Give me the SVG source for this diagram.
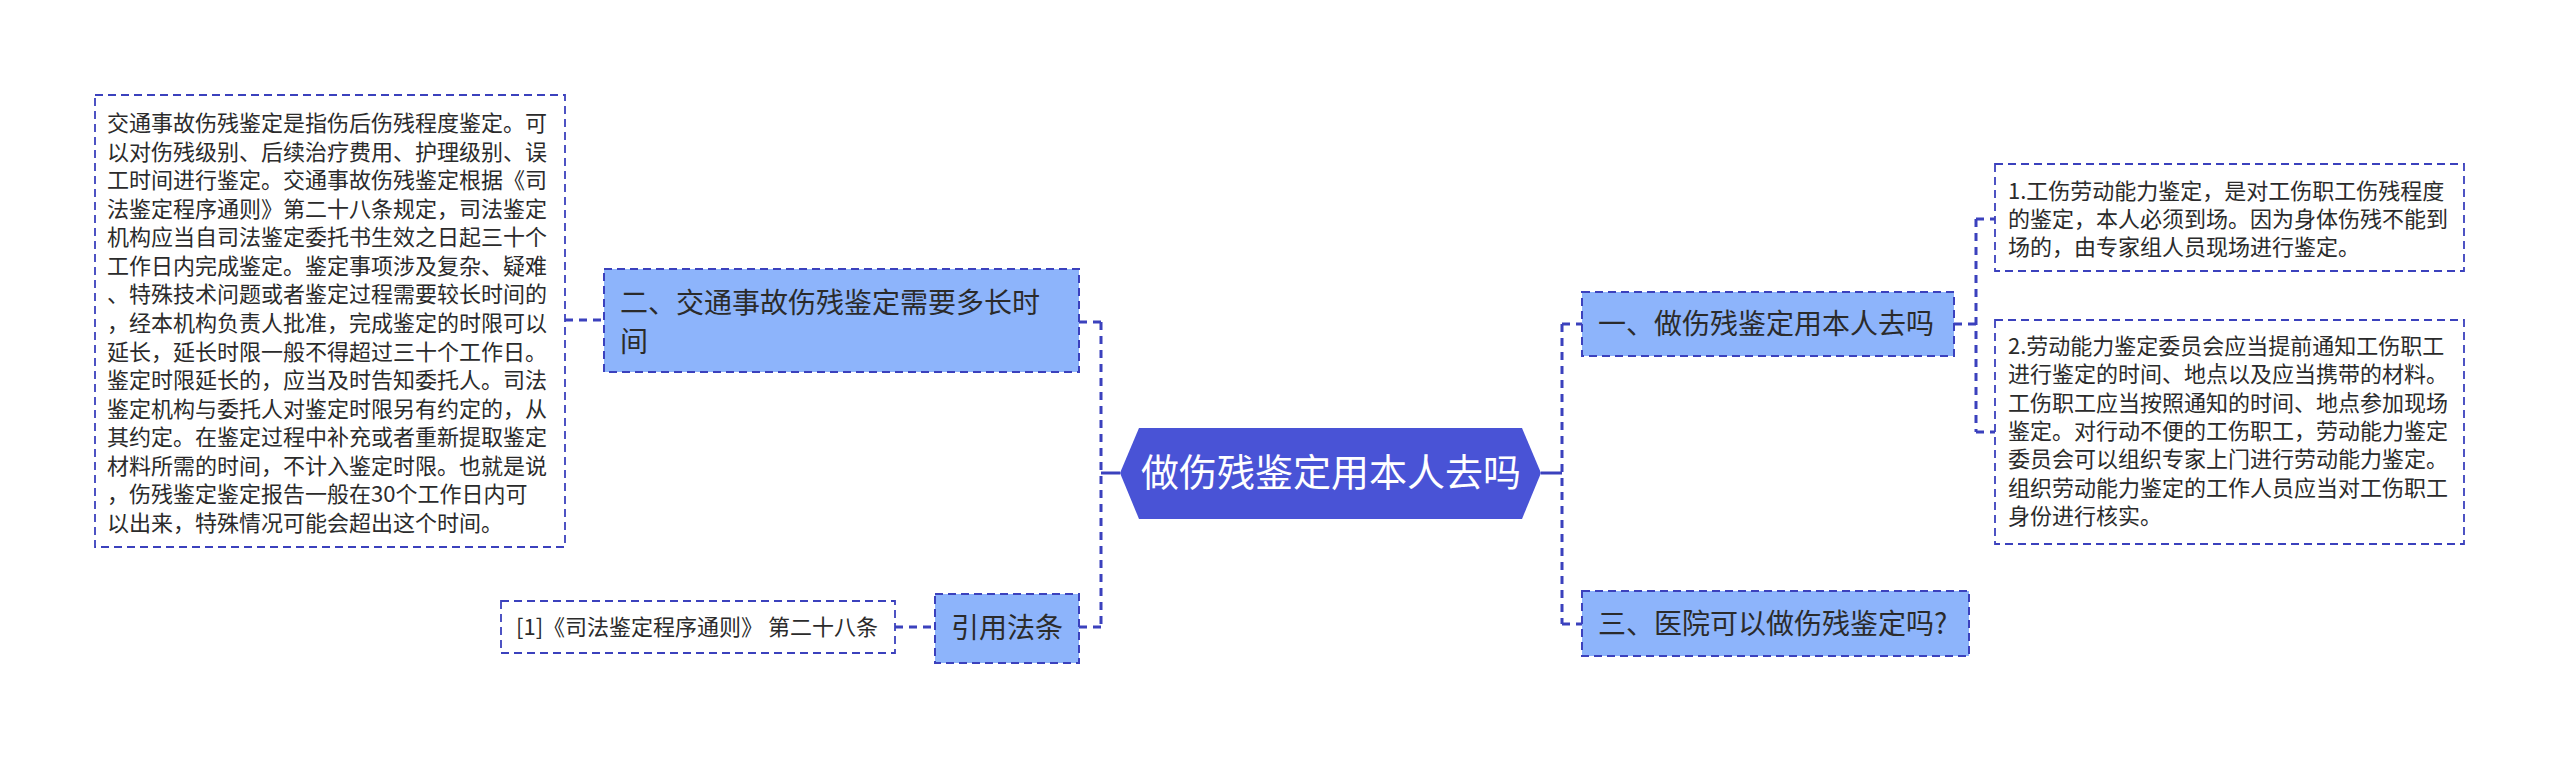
<svg xmlns="http://www.w3.org/2000/svg" width="2560" height="758" viewBox="0 0 2560 758">
<style>
.t{font-family:"Noto Sans CJK SC","Liberation Sans",sans-serif;fill:#2b2b2b}
.d{font-size:22px}
.b{font-size:28px}
.c{font-size:38px;fill:#ffffff}
.box{fill:#ffffff;stroke:#3b41bd;stroke-width:1.8;stroke-dasharray:8 5}
.br{fill:#8db4fb;stroke:#3b41bd;stroke-width:2;stroke-dasharray:8 5}
.con{fill:none;stroke:#3b41bd;stroke-width:3;stroke-dasharray:8 6}
.sol{fill:none;stroke:#3b41bd;stroke-width:3}
</style>
<rect width="2560" height="758" fill="#ffffff"/>
<g id="connectors">
<path class="sol" d="M1120 473 H1101"/>
<path class="con" d="M1101 322 V627"/>
<path class="con" d="M1079 322 H1101"/>
<path class="con" d="M1079 627 H1101"/>
<path class="con" d="M565 320 H604"/>
<path class="con" d="M895 627 H935"/>
<path class="sol" d="M1541 473 H1562"/>
<path class="con" d="M1562 324 V624"/>
<path class="con" d="M1562 324 H1582"/>
<path class="con" d="M1562 624 H1582"/>
<path class="con" d="M1954 324 H1976"/>
<path class="con" d="M1976 219 V432"/>
<path class="con" d="M1976 219 H1995"/>
<path class="con" d="M1976 432 H1995"/>
</g>
<g id="center">
<polygon points="1120,473 1139,428 1522,428 1541,473 1522,519 1139,519" fill="#4953d6"/>
<text class="t c" x="1331" y="486" text-anchor="middle">做伤残鉴定用本人去吗</text>
</g>
<g id="node-q2">
<rect class="br" x="604" y="269" width="475" height="103"/>
<text class="t b" x="620"><tspan x="620" y="313">二、交通事故伤残鉴定需要多长时</tspan><tspan x="620" y="352">间</tspan></text>
</g>
<g id="detail-q2">
<rect class="box" x="95" y="95" width="470" height="452"/>
<text class="t d">
<tspan x="107" y="131">交通事故伤残鉴定是指伤后伤残程度鉴定。可</tspan>
<tspan x="107" y="159.6">以对伤残级别、后续治疗费用、护理级别、误</tspan>
<tspan x="107" y="188.1">工时间进行鉴定。交通事故伤残鉴定根据《司</tspan>
<tspan x="107" y="216.7">法鉴定程序通则》第二十八条规定，司法鉴定</tspan>
<tspan x="107" y="245.3">机构应当自司法鉴定委托书生效之日起三十个</tspan>
<tspan x="107" y="273.9">工作日内完成鉴定。鉴定事项涉及复杂、疑难</tspan>
<tspan x="107" y="302.4">、特殊技术问题或者鉴定过程需要较长时间的</tspan>
<tspan x="107" y="331">，经本机构负责人批准，完成鉴定的时限可以</tspan>
<tspan x="107" y="359.6">延长，延长时限一般不得超过三十个工作日。</tspan>
<tspan x="107" y="388.1">鉴定时限延长的，应当及时告知委托人。司法</tspan>
<tspan x="107" y="416.7">鉴定机构与委托人对鉴定时限另有约定的，从</tspan>
<tspan x="107" y="445.3">其约定。在鉴定过程中补充或者重新提取鉴定</tspan>
<tspan x="107" y="473.9">材料所需的时间，不计入鉴定时限。也就是说</tspan>
<tspan x="107" y="502.4">，伤残鉴定鉴定报告一般在30个工作日内可</tspan>
<tspan x="107" y="531">以出来，特殊情况可能会超出这个时间。</tspan>
</text>
</g>
<g id="node-ref">
<rect class="br" x="935" y="594" width="144" height="69"/>
<text class="t b" x="1007" y="638" text-anchor="middle">引用法条</text>
</g>
<g id="detail-ref">
<rect class="box" x="501" y="601" width="394" height="52"/>
<text class="t d" x="516" y="635">[1]《司法鉴定程序通则》 第二十八条</text>
</g>
<g id="node-q1">
<rect class="br" x="1582" y="292" width="372" height="64"/>
<text class="t b" x="1598" y="334">一、做伤残鉴定用本人去吗</text>
</g>
<g id="detail-q1a">
<rect class="box" x="1995" y="164" width="469" height="107"/>
<text class="t d">
<tspan x="2008" y="199">1.工伤劳动能力鉴定，是对工伤职工伤残程度</tspan>
<tspan x="2008" y="227">的鉴定，本人必须到场。因为身体伤残不能到</tspan>
<tspan x="2008" y="255">场的，由专家组人员现场进行鉴定。</tspan>
</text>
</g>
<g id="detail-q1b">
<rect class="box" x="1995" y="320" width="469" height="224"/>
<text class="t d">
<tspan x="2008" y="354">2.劳动能力鉴定委员会应当提前通知工伤职工</tspan>
<tspan x="2008" y="382.3">进行鉴定的时间、地点以及应当携带的材料。</tspan>
<tspan x="2008" y="410.6">工伤职工应当按照通知的时间、地点参加现场</tspan>
<tspan x="2008" y="438.9">鉴定。对行动不便的工伤职工，劳动能力鉴定</tspan>
<tspan x="2008" y="467.2">委员会可以组织专家上门进行劳动能力鉴定。</tspan>
<tspan x="2008" y="495.5">组织劳动能力鉴定的工作人员应当对工伤职工</tspan>
<tspan x="2008" y="523.8">身份进行核实。</tspan>
</text>
</g>
<g id="node-q3">
<rect class="br" x="1582" y="591" width="387" height="65"/>
<text class="t b" x="1598" y="634">三、医院可以做伤残鉴定吗?</text>
</g>
</svg>
